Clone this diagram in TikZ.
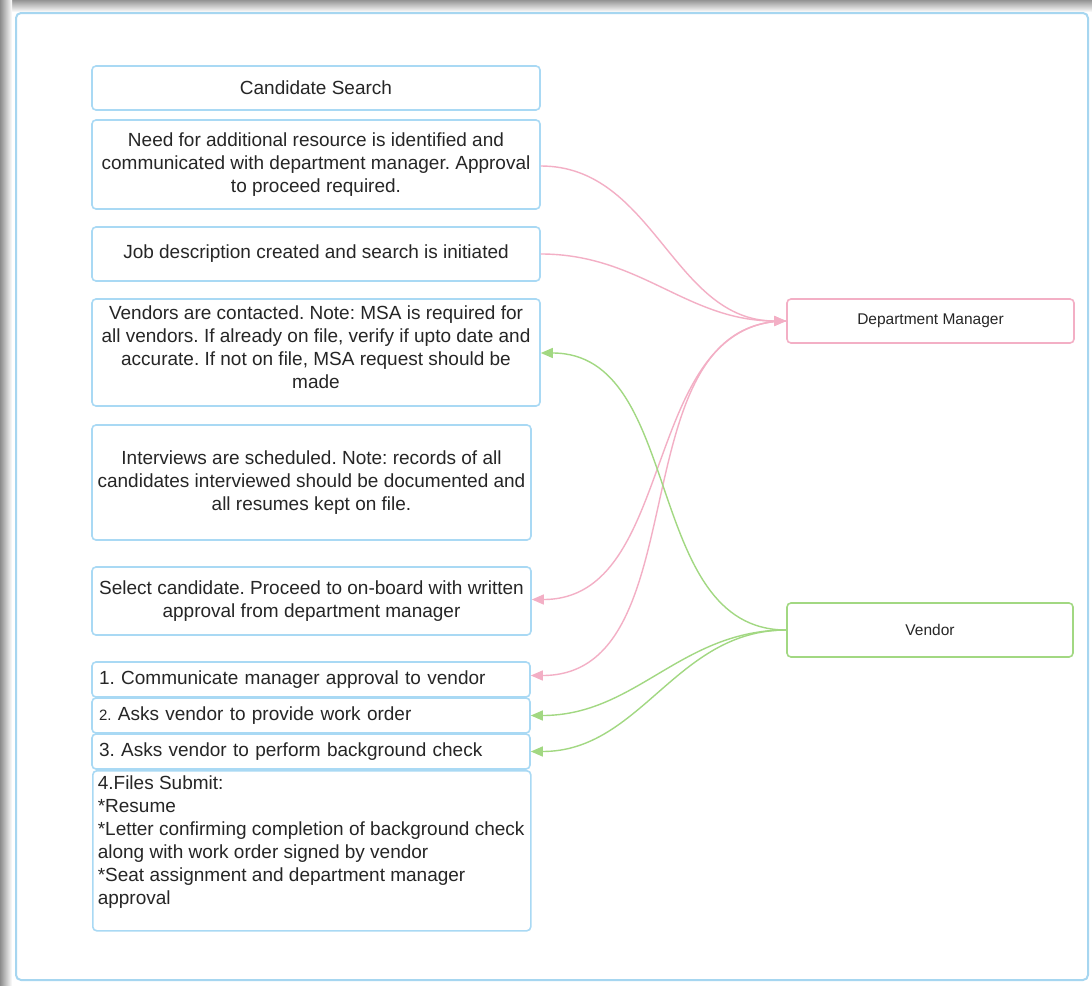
\documentclass[tikz,border=0pt]{standalone}
\usepackage{fontspec}
\setmainfont{Liberation Sans}
\usetikzlibrary{arrows.meta}
\definecolor{boxblue}{HTML}{A9D9F4}
\definecolor{framblue}{HTML}{A6D6F0}
\definecolor{pinkc}{HTML}{F3AFC5}
\definecolor{greenc}{HTML}{A2D882}
\definecolor{txt}{HTML}{262626}
\tikzset{
  stepbox/.style={draw=boxblue, line width=1.6pt, rounded corners=4pt, fill=white,
    font=\frenchspacing\fontsize{19}{23}\selectfont, text=txt, inner sep=0pt, align=center},
  rolebox/.style={stepbox, font=\fontsize{15.5}{19}\selectfont},
  pinkarrow/.style={draw=pinkc, line width=1.4pt, -{Triangle[length=12pt,width=10pt]}},
  greenarrow/.style={draw=greenc, line width=1.4pt, -{Triangle[length=12pt,width=10pt]}},
}
\begin{document}
\begin{tikzpicture}[x=1pt,y=-1pt]
\useasboundingbox (0,0) rectangle (1092,985);
\fill[white] (0,0) rectangle (1092,985);
\shade[top color=black!42, bottom color=white] (0,0) rectangle (1092,12);
\shade[left color=black!45, right color=white] (0,0) rectangle (12,985);
\draw[framblue, line width=2pt, rounded corners=5pt] (16,13) rectangle (1088,980);

% left column
\node[stepbox, minimum width=448pt, minimum height=44pt] (b1) at (316,88) {Candidate Search};
\node[stepbox, minimum width=448pt, minimum height=89pt] (b2) at (316,164.5)
  {Need for additional resource is identified and\\communicated with department manager. Approval\\to proceed required.};
\node[stepbox, minimum width=448pt, minimum height=54pt] (b3) at (316,254)
  {Job description created and search is initiated};
\node[stepbox, minimum width=448pt, minimum height=107pt] (b4) at (316,352.5)
  {Vendors are contacted. Note: MSA is required for\\all vendors. If already on file, verify if upto date and\\accurate. If not on file, MSA request should be\\made\rule[-10pt]{0pt}{1pt}};
\node[stepbox, minimum width=439pt, minimum height=115pt] (b5) at (311.5,482.5)
  {Interviews are scheduled. Note: records of all\\candidates interviewed should be documented and\\all resumes kept on file.};
\node[stepbox, minimum width=439pt, minimum height=68pt] (b6) at (311.5,601)
  {Select candidate. Proceed to on-board with written\\approval from department manager};
\node[stepbox, minimum width=438pt, minimum height=35pt, text width=424pt, align=left] (b7) at (311,679.5)
  {1. Communicate manager approval to vendor};
\node[stepbox, minimum width=438pt, minimum height=35pt, text width=424pt, align=left] (b8) at (311,715.5)
  {{\fontsize{15}{23}\selectfont 2.} Asks vendor to provide work order};
\node[stepbox, minimum width=438pt, minimum height=35pt, text width=424pt, align=left] (b9) at (311,751.5)
  {3. Asks vendor to perform background check};
\node[stepbox, minimum width=438pt, minimum height=160pt, inner xsep=5pt, inner ysep=5pt, anchor=north west] (b10) at (92,770)
  {\parbox[t][150pt][t]{428pt}{\raggedright 4.Files Submit:\\{}*Resume\\{}*Letter confirming completion of background check along with work order signed by vendor\\{}*Seat assignment and department manager approval}};

% right column
\node[rolebox, draw=pinkc, minimum width=287pt, minimum height=44pt] (dm) at (930.5,321) {Department Manager};
\node[rolebox, draw=greenc, minimum width=286pt, minimum height=54pt] (ven) at (930,630) {Vendor};

% connectors
\draw[pinkarrow] ([yshift=-1.5pt]b2.east) to[out=0,in=180] (dm.west);
\draw[pinkarrow] (b3.east) to[out=0,in=180] (dm.west);
\draw[pinkarrow] (dm.west) to[out=180,in=0] ([yshift=1.5pt]b6.east);
\draw[pinkarrow] (dm.west) to[out=180,in=0] ([yshift=4pt]b7.east);
\draw[greenarrow] (ven.west) to[out=180,in=0] ([yshift=-0.5pt]b4.east);
\draw[greenarrow] (ven.west) to[out=180,in=0] (b8.east);
\draw[greenarrow] (ven.west) to[out=180,in=0] (b9.east);
\end{tikzpicture}
\end{document}
